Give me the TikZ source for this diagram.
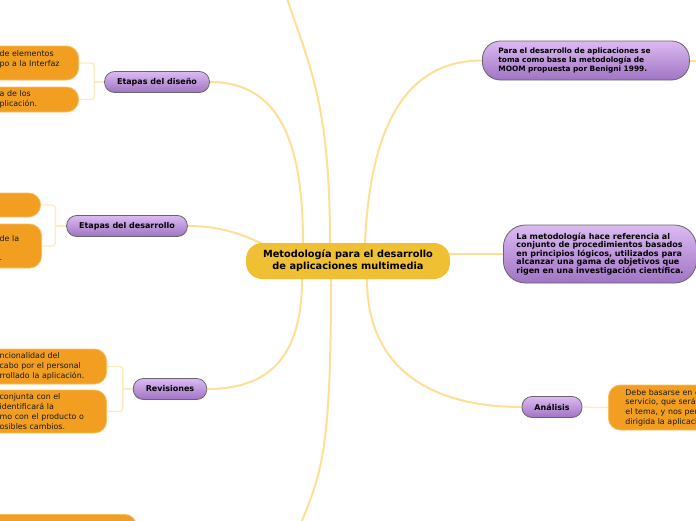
\documentclass[tikz,border=0pt]{standalone}
\usepackage{fontspec}
\setmainfont{DejaVu Sans}
\usetikzlibrary{backgrounds}
\definecolor{oro}{RGB}{240,192,52}
\definecolor{lilaclaro}{RGB}{220,186,242}
\definecolor{lilaoscuro}{RGB}{160,116,196}
\definecolor{naranja}{RGB}{242,158,32}
\definecolor{naranjaborde}{RGB}{248,190,100}
\definecolor{linea}{RGB}{255,222,150}
\definecolor{linealigera}{RGB}{255,234,190}

\begin{document}
\begin{tikzpicture}[x=1pt,y=-1pt,
    central/.style={fill=oro,rounded corners=16pt,minimum height=36pt,inner xsep=17pt,align=center,font=\fontsize{9.8}{12}\selectfont\bfseries},
    tema/.style={top color=lilaclaro,bottom color=lilaoscuro,draw=black!60,line width=0.8pt,rounded corners=10pt,minimum height=21pt,inner xsep=12.5pt,font=\fontsize{8}{9.6}\selectfont\bfseries},
    hoja/.style={fill=naranja,draw=naranjaborde,line width=0.8pt,rounded corners=12pt,inner xsep=8pt,inner ysep=3pt,align=left,text=black!90,font=\fontsize{7.9}{9.7}\selectfont},
    corte/.style={text width=150pt,execute at begin node={\leftskip=\dimexpr158pt-#1pt\relax}},
    rama/.style={draw=linea,line width=2pt},
    ramita/.style={draw=linealigera,line width=1.3pt}]
    \useasboundingbox (0,0) rectangle (696,520);
    \clip (0,0) rectangle (696,520);

    \node[central] (centro) at (348,261) {Metodología para el desarrollo\\de aplicaciones multimedia};

    \node[tema] (diseno) at (157,82) {Etapas del diseño};
    \node[tema] (desarrollo) at (127,226) {Etapas del desarrollo};
    \node[tema] (revisiones) at (170,389) {Revisiones};
    \node[tema] (analisis) at (552,407) {Análisis};
    \node[tema,anchor=west,text width=175pt,align=left,inner xsep=16pt,minimum height=39pt,rounded corners=18pt,font=\fontsize{7.4}{9}\selectfont\bfseries] (moom) at (482,60.5) {Para el desarrollo de aplicaciones se\\toma como base la metodología de\\MOOM propuesta por Benigni 1999.};
    \node[tema,anchor=west,align=left,inner xsep=13pt,minimum height=58pt,rounded corners=22pt,font=\fontsize{8}{8.4}\selectfont\bfseries] (metodo) at (503,254) {La metodología hace referencia al\\conjunto de procedimientos basados\\en principios lógicos, utilizados para\\alcanzar una gama de objetivos que\\rigen en una investigación científica.};

    \node[hoja,corte=79,anchor=east,minimum height=34pt] (diseno1) at (79,63) {de elementos\\po a la Interfaz\\\mbox{}};
    \node[hoja,corte=79,anchor=east,minimum height=25pt] (diseno2) at (79,99.5) {a de los\\plicación.};
    \node[hoja,anchor=east,minimum width=120pt,minimum height=24pt] (desarrollo1) at (41,205) {};
    \node[hoja,corte=42,anchor=east,minimum height=44pt] (desarrollo2) at (42,246) {\mbox{}\\de la\\\mbox{}\\.};
    \node[hoja,corte=107,anchor=east,minimum height=35pt] (revisiones1) at (107,366.5) {ncionalidad del\\cabo por el personal\\rrollado la aplicación.};
    \node[hoja,corte=107,anchor=east,minimum height=43pt] (revisiones2) at (107,411.5) {conjunta con el\\identificará la\\mo con el producto o\\osibles cambios.};
    \node[hoja,anchor=north east,minimum width=200pt,minimum height=40pt] (abajo) at (137,514) {};
    \node[hoja,anchor=west,text width=140pt,inner xsep=17pt,minimum height=45pt] (analisis1) at (608,407.5) {Debe basarse en el\\servicio, que será\\el tema, y nos permite\\dirigida la aplicación.};

    \coordinate (arriba) at (281,-20);
    \coordinate (abajoff) at (296,535);
    \coordinate (moomoff) at (710,60.5);

    \begin{pgfonlayer}{background}
        \draw[rama] ([xshift=-45pt]centro.north) .. controls +(0,-100) and +(70,0) .. (diseno.east);
        \draw[rama] ([xshift=-18pt]centro.north) .. controls +(0,-150) and +(25,80) .. (arriba);
        \draw[rama] ([xshift=17pt]centro.north) .. controls +(5,-110) and +(-80,0) .. (moom.west);
        \draw[rama] (desarrollo.east) .. controls +(40,0) and +(-30,-14) .. ([xshift=-68pt,yshift=9pt]centro.center);
        \draw[rama] (revisiones.east) .. controls +(60,0) and +(0,80) .. ([xshift=-46pt]centro.south);
        \draw[rama] ([xshift=19pt]centro.south) .. controls +(0,90) and +(-90,0) .. (analisis.west);
        \draw[rama] ([xshift=-17pt]centro.south) .. controls +(0,180) and +(25,-60) .. (abajoff);
        \draw[rama] (centro.center |- metodo.west) -- (metodo.west);
        \draw[rama] (moom.east) -- (moomoff);

        \draw[ramita] (diseno.west) -- ++(-10,0);
        \draw[ramita,rounded corners=3pt] (diseno1.east) -| ([xshift=-10pt]diseno.west) |- (diseno2.east);
        \draw[ramita] (desarrollo.west) -- ++(-11,0);
        \draw[ramita,rounded corners=3pt] (desarrollo1.east) -| ([xshift=-11pt]desarrollo.west) |- (desarrollo2.east);
        \draw[ramita] (revisiones.west) -- ++(-10,0);
        \draw[ramita,rounded corners=3pt] (revisiones1.east) -| ([xshift=-10pt]revisiones.west) |- (revisiones2.east);
        \draw[ramita] (analisis.east) -- (analisis1.west);
    \end{pgfonlayer}
\end{tikzpicture}
\end{document}
